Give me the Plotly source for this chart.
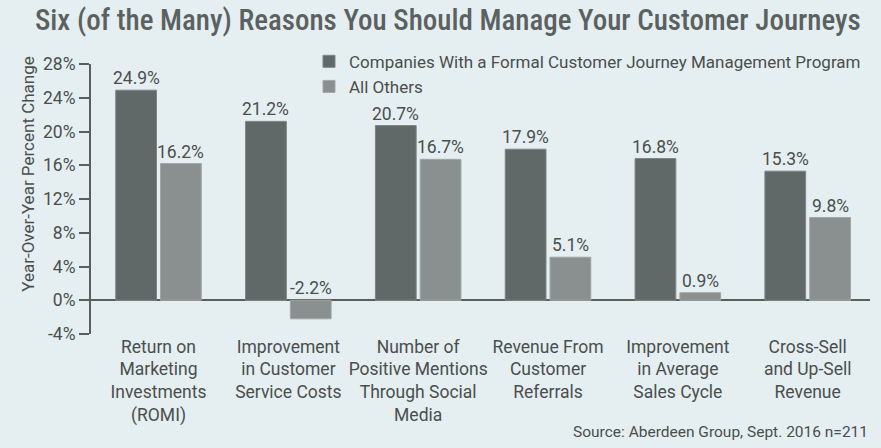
import plotly.graph_objects as go

categories = [
    "Return on<br>Marketing<br>Investments<br>(ROMI)",
    "Improvement<br>in Customer<br>Service Costs",
    "Number of<br>Positive Mentions<br>Through Social<br>Media",
    "Revenue From<br>Customer<br>Referrals",
    "Improvement<br>in Average<br>Sales Cycle",
    "Cross-Sell<br>and Up-Sell<br>Revenue",
]
formal = [24.9, 21.2, 20.7, 17.9, 16.8, 15.3]
others = [16.2, -2.2, 16.7, 5.1, 0.9, 9.8]
series_names = ["Companies With a Formal Customer Journey Management Program", "All Others"]
tick_vals = [-4, 0, 4, 8, 12, 16, 20, 24, 28]
tick_text = ["-4%", "0%", "4%", "8%", "12%", "16%", "20%", "24%", "28%"]

BG = "#e5eef0"
DARK = "#606968"
LIGHT = "#8a908f"
TXT = "#4a4f4e"
FONT = "Roboto, Liberation Sans, Arial, sans-serif"

BARGAP = 0.31
GROUPGAP = 0.09

fig = go.Figure()
fig.add_trace(go.Bar(x=categories, y=formal, name=series_names[0],
                     marker=dict(color=DARK, line=dict(color="#7d8685", width=1))))
fig.add_trace(go.Bar(x=categories, y=others, name=series_names[1],
                     marker=dict(color=LIGHT, line=dict(color="#a0a6a5", width=1))))

slot_px = 130 * (1 - BARGAP) / 2
for vals, sh in ((formal, -slot_px / 2), (others, slot_px / 2)):
    for c, v in zip(categories, vals):
        fig.add_annotation(x=c, y=max(v, 0), text=f"{v:.1f}%", showarrow=False,
                           xshift=sh, yshift=0, yanchor="bottom",
                           font=dict(size=17.5, color=TXT, family=FONT))

fig.add_annotation(xref="paper", yref="paper", x=1, y=-(433 - 334.5) / 270.4,
                   xanchor="right", yanchor="middle",
                   text="Source: Aberdeen Group, Sept. 2016 n=211", showarrow=False,
                   font=dict(size=15.5, color=TXT, family=FONT))

fig.add_annotation(xref="paper", yref="paper", x=(28 - 91) / 779, y=(334.5 - 174) / 270.4,
                   xanchor="center", yanchor="middle", textangle=-90,
                   text="Year-Over-Year Percent Change", showarrow=False,
                   font=dict(size=17, color=TXT, family=FONT))

fig.update_layout(
    width=881, height=448,
    paper_bgcolor=BG, plot_bgcolor=BG,
    margin=dict(l=91, r=11, t=64, b=114),
    barmode="group", bargap=BARGAP, bargroupgap=GROUPGAP,
    title=dict(text="Six (of the Many) Reasons You Should Manage Your Customer Journeys",
               xref="container", yref="container", x=35 / 881, xanchor="left",
               y=1 - 20 / 448, yanchor="middle",
               font=dict(size=29, color="#5a6160", family="Liberation Sans Narrow, Roboto Condensed, Roboto", weight=500)),
    legend=dict(x=(309 - 91) / 779, y=1.075, xanchor="left", yanchor="top", bgcolor="rgba(0,0,0,0)",
                font=dict(size=17, color=TXT, family=FONT), itemwidth=30, tracegroupgap=0),
    font=dict(family=FONT, color=TXT),
)
fig.update_xaxes(showgrid=False, showline=False, ticks="", range=[-0.52, 5.48],
                 tickfont=dict(size=17.5, color=TXT, family=FONT))
fig.update_yaxes(range=[-4, 28], tickvals=tick_vals, ticktext=tick_text, showgrid=False,
                 showline=True, linecolor="#5a5f5e", linewidth=2, ticks="outside", ticklen=10,
                 tickcolor="#5a5f5e", tickwidth=2,
                 zeroline=True, zerolinecolor="#5a5f5e", zerolinewidth=2,
                 tickfont=dict(size=17.5, color=TXT, family=FONT))
fig.write_html("out.html")
